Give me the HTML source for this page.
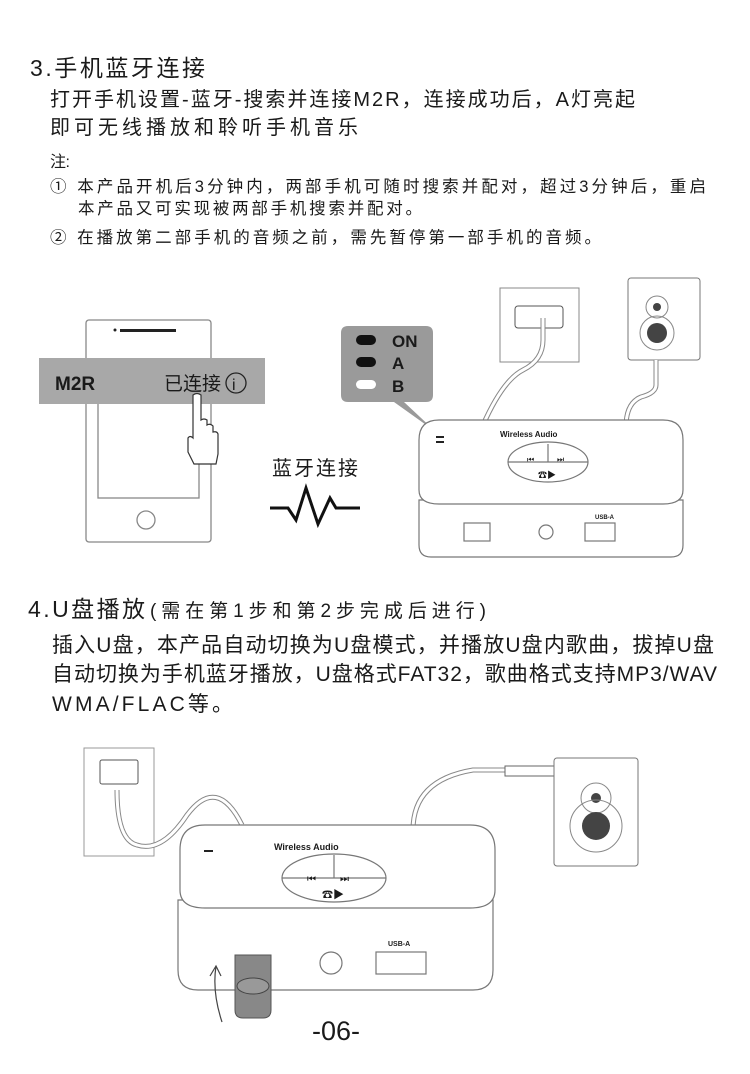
<!DOCTYPE html>
<html><head><meta charset="utf-8"><style>
html,body{margin:0;padding:0;background:#fff}
svg{display:block}
text{font-family:"Liberation Sans","Noto Sans CJK SC",sans-serif;fill:#1a1a1a}
</style></head><body>
<svg width="750" height="1074" viewBox="0 0 750 1074" xmlns="http://www.w3.org/2000/svg">
<text x="30" y="76" font-size="23" textLength="175" lengthAdjust="spacing">3.手机蓝牙连接</text>
<text x="50" y="106" font-size="20" textLength="585" lengthAdjust="spacing">打开手机设置-蓝牙-搜索并连接M2R，连接成功后，A灯亮起</text>
<text x="50" y="134" font-size="20" textLength="308" lengthAdjust="spacing">即可无线播放和聆听手机音乐</text>
<text x="50" y="167" font-size="16" textLength="20" lengthAdjust="spacing">注:</text>
<text x="50" y="192" font-size="16.5" textLength="656" lengthAdjust="spacing">① 本产品开机后3分钟内，两部手机可随时搜索并配对，超过3分钟后，重启</text>
<text x="78" y="214" font-size="16.5" textLength="344" lengthAdjust="spacing">本产品又可实现被两部手机搜索并配对。</text>
<text x="50" y="243" font-size="16.5" textLength="551" lengthAdjust="spacing">② 在播放第二部手机的音频之前，需先暂停第一部手机的音频。</text>

<!-- phone -->
<g fill="none" stroke="#888" stroke-width="1.3">
<rect x="86" y="320" width="125" height="222" rx="3" fill="#fff"/>
<rect x="98" y="376" width="101" height="122"/>
<circle cx="146" cy="520" r="9"/>
</g>
<rect x="120" y="329" width="56" height="3" fill="#222"/><circle cx="115" cy="330" r="1.5" fill="#222"/>
<rect x="39" y="358" width="226" height="46" fill="#a8a8a8"/>
<text x="55" y="390" font-size="19" font-weight="bold" fill="#222">M2R</text>
<text x="164" y="390" font-size="19" fill="#222">已连接</text>
<circle cx="236" cy="383" r="10" fill="none" stroke="#222" stroke-width="1.3"/>
<text x="232" y="390" font-size="16" font-family="Liberation Serif" fill="#222">i</text>
<path d="M193 395 q4 -3 8 0 v25 q3-2 6 0 v5 q3-2 6 1 v6 q4-1 5 2 v20 l-2 10 h-22 l-6-12 v-14 q2-3 5 0 z" fill="#fff" stroke="#333" stroke-width="1.2"/>

<!-- bluetooth label -->
<text x="272" y="475" font-size="20" textLength="86" lengthAdjust="spacing">蓝牙连接</text>
<polyline points="270,508 288,508 296,520 306,488 318,524 330,498 336,508 360,508" fill="none" stroke="#111" stroke-width="3"/>

<!-- callout -->
<path d="M348 326 h78 q7 0 7 7 v62 q0 7 -7 7 h-22 l32 30 l-42 -30 h-46 q-7 0 -7 -7 v-62 q0 -7 7 -7z" fill="#9a9a9a"/>
<rect x="356" y="335" width="20" height="10" rx="5" fill="#111"/>
<rect x="356" y="357" width="20" height="10" rx="5" fill="#111"/>
<rect x="356" y="380" width="20" height="9" rx="4.5" fill="#fff"/>
<text x="392" y="347" font-size="17" font-weight="bold" fill="#111">ON</text>
<text x="392" y="369" font-size="17" font-weight="bold" fill="#111">A</text>
<text x="392" y="392" font-size="17" font-weight="bold" fill="#111">B</text>

<!-- wall plate 1 -->
<rect x="500" y="288" width="79" height="74" fill="#fff" stroke="#888"/>
<rect x="515" y="306" width="48" height="22" rx="3" fill="none" stroke="#555"/>
<path d="M543 318 v22 q0 20 -20 30 q-20 10 -40 55" fill="none" stroke="#888" stroke-width="5"/>
<path d="M543 318 v22 q0 20 -20 30 q-20 10 -40 55" fill="none" stroke="#fff" stroke-width="3"/>
<!-- speaker 1 -->
<rect x="628" y="278" width="72" height="82" rx="3" fill="#fff" stroke="#777"/>
<circle cx="657" cy="307" r="11" fill="none" stroke="#888"/><circle cx="657" cy="307" r="4" fill="#444"/>
<circle cx="657" cy="333" r="17" fill="none" stroke="#888"/><circle cx="657" cy="333" r="10" fill="#444"/>
<path d="M656 360 v25 q0 8 -15 12 q-15 6 -15 30" fill="none" stroke="#888" stroke-width="5"/>
<path d="M656 360 v25 q0 8 -15 12 q-15 6 -15 30" fill="none" stroke="#fff" stroke-width="3"/>

<!-- device 1 -->
<g stroke="#777" stroke-width="1.2" fill="#fff">
<path d="M419 500 v45 q0 12 12 12 h240 q12 0 12 -12 v-45z"/>
<path d="M419 440 q0 -20 20 -20 h224 q20 0 20 20 v50 q0 14 -20 14 h-224 q-20 0 -20 -14z"/>
<ellipse cx="548" cy="462" rx="40" ry="20"/>
<path d="M508 462 h80 M548 444 v18"/>
<rect x="464" y="523" width="26" height="18"/><rect x="585" y="523" width="30" height="18"/>
<circle cx="546" cy="532" r="7"/>
</g>
<text x="500" y="437" font-size="8" font-weight="bold">Wireless Audio</text>
<text x="595" y="519" font-size="6" font-weight="bold">USB-A</text>
<text x="527" y="462" font-size="8">⏮</text><text x="557" y="462" font-size="8">⏭</text>
<text x="538" y="478" font-size="9" font-weight="bold">☎▶</text>
<rect x="436" y="436" width="8" height="2" fill="#222"/><rect x="436" y="441" width="8" height="2" fill="#222"/>

<!-- section 4 -->
<text x="28" y="617" font-size="23" textLength="117" lengthAdjust="spacing">4.U盘播放</text>
<text x="150" y="617" font-size="19" fill="#666" textLength="336" lengthAdjust="spacing">(需在第1步和第2步完成后进行)</text>
<text x="52" y="652" font-size="21" textLength="662" lengthAdjust="spacing">插入U盘，本产品自动切换为U盘模式，并播放U盘内歌曲，拔掉U盘</text>
<text x="52" y="681" font-size="21" textLength="665" lengthAdjust="spacing">自动切换为手机蓝牙播放，U盘格式FAT32，歌曲格式支持MP3/WAV</text>
<text x="52" y="711" font-size="21" textLength="181" lengthAdjust="spacing">WMA/FLAC等。</text>

<!-- diagram 2 -->
<rect x="84" y="748" width="70" height="108" fill="#fff" stroke="#999"/>
<rect x="100" y="760" width="38" height="24" rx="2" fill="none" stroke="#555"/>
<path d="M117 790 q0 50 20 55 q25 8 50 -30 q30 -40 55 10" fill="none" stroke="#888" stroke-width="5"/>
<path d="M117 790 q0 50 20 55 q25 8 50 -30 q30 -40 55 10" fill="none" stroke="#fff" stroke-width="3"/>
<path d="M413 830 q0 -50 60 -60 h60" fill="none" stroke="#888" stroke-width="5"/>
<path d="M413 830 q0 -50 60 -60 h60" fill="none" stroke="#fff" stroke-width="3"/>
<rect x="505" y="766" width="50" height="10" fill="#fff" stroke="#666"/>
<rect x="554" y="758" width="84" height="108" rx="3" fill="#fff" stroke="#777"/>
<circle cx="596" cy="798" r="15" fill="none" stroke="#888"/><circle cx="596" cy="798" r="5" fill="#444"/>
<circle cx="596" cy="826" r="26" fill="none" stroke="#888"/><circle cx="596" cy="826" r="14" fill="#444"/>
<g stroke="#777" stroke-width="1.2" fill="#fff">
<path d="M178 900 v70 q0 20 20 20 h275 q20 0 20 -20 v-70z"/>
<path d="M180 850 q0 -25 25 -25 h265 q25 0 25 25 v40 q0 18 -25 18 h-265 q-25 0 -25 -18z"/>
<ellipse cx="334" cy="878" rx="52" ry="24"/>
<path d="M282 878 h104 M334 855 v23"/>
<rect x="376" y="952" width="50" height="22"/>
<circle cx="331" cy="963" r="11"/>
</g>
<text x="274" y="850" font-size="9" font-weight="bold">Wireless Audio</text>
<text x="388" y="946" font-size="7" font-weight="bold">USB-A</text>
<text x="307" y="882" font-size="10">⏮</text><text x="340" y="882" font-size="10">⏭</text>
<text x="322" y="898" font-size="11" font-weight="bold">☎▶</text>
<rect x="204" y="850" width="9" height="2" fill="#222"/>
<path d="M235 955 h36 v55 q0 8 -8 8 h-20 q-8 0 -8 -8z" fill="#888" stroke="#555"/>
<ellipse cx="253" cy="986" rx="16" ry="8" fill="#999" stroke="#444"/>
<path d="M222 1022 q-10 -30 -6 -56 M210 976 l6 -10 l5 10" fill="none" stroke="#444" stroke-width="1.2"/>
<text x="312" y="1040" font-size="27" fill="#111">-06-</text>
</svg>
</body></html>
